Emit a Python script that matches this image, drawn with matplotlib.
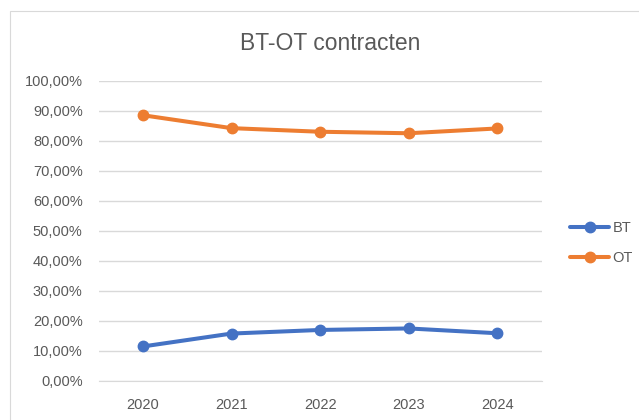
import matplotlib.pyplot as plt
from matplotlib.patches import Rectangle
from matplotlib.ticker import FuncFormatter, MultipleLocator

# data
years = ["2020", "2021", "2022", "2023", "2024"]
bt = [0.115, 0.158, 0.170, 0.175, 0.159]
ot = [0.885, 0.842, 0.830, 0.825, 0.841]

blue = "#4472C4"
orange = "#ED7D31"
grid_col = "#D9D9D9"
txt = "#595959"

plt.rcParams['font.family'] = ['Liberation Sans', 'DejaVu Sans']

fig = plt.figure(figsize=(6.39, 4.20), dpi=100)
ax = fig.add_axes([98.6 / 639, 39 / 420, 443 / 639, 300.3 / 420])

x = range(len(years))
ax.plot(x, bt, color=blue, lw=2.9, marker='o', ms=7.5, label="BT", solid_capstyle='round')
ax.plot(x, ot, color=orange, lw=2.9, marker='o', ms=7.5, label="OT", solid_capstyle='round')

ax.set_xlim(-0.5, len(years) - 0.5)
ax.set_ylim(0, 1)
ax.set_xticks(list(x))
ax.set_xticklabels(years)
ax.yaxis.set_major_locator(MultipleLocator(0.1))
ax.yaxis.set_major_formatter(FuncFormatter(lambda v, p: f"{v * 100:.2f}%".replace('.', ',')))

ax.grid(axis='y', color=grid_col, lw=1.0)
ax.set_axisbelow(True)
for s in ['left', 'right', 'top']:
    ax.spines[s].set_visible(False)
ax.spines['bottom'].set_color(grid_col)
ax.tick_params(length=0, colors=txt, labelsize=10.5)
ax.tick_params(axis='y', pad=11.5)
ax.tick_params(axis='x', pad=12)

fig.text(330 / 639, 1 - 43 / 420, "BT-OT contracten", ha='center', va='center',
         fontsize=16.5, color=txt)

leg = ax.legend(loc='center left', bbox_to_anchor=(570 / 639, 1 - 243 / 420),
                bbox_transform=fig.transFigure, frameon=False, fontsize=10.5,
                handlelength=2.7, handletextpad=0.2, labelspacing=1.05,
                borderpad=0, borderaxespad=0)
for t in leg.get_texts():
    t.set_color(txt)

# chart-area border
fig.patches.append(Rectangle((9.5 / 639, -0.2), 2, 1.2 - 11 / 420, transform=fig.transFigure,
                             fill=False, edgecolor=grid_col, lw=0.8))

fig.savefig("out.png", dpi=100, facecolor='white')
